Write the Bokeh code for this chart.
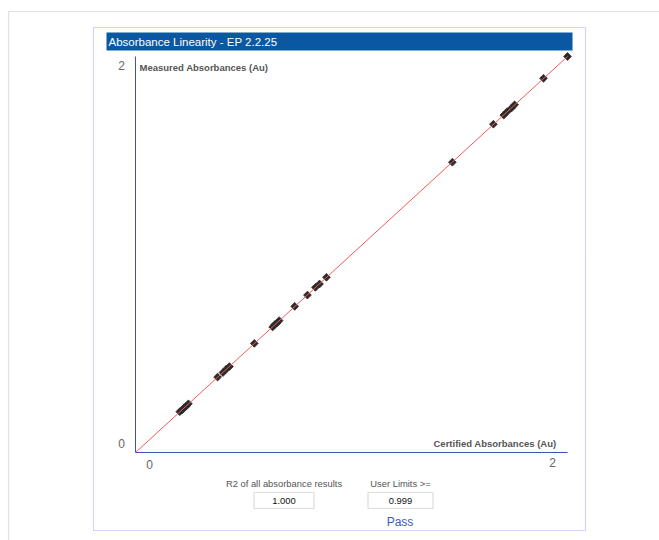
from bokeh.plotting import figure
from bokeh.models import Range1d, Label, BoxAnnotation
from bokeh.embed import file_html
from bokeh.resources import INLINE

# ---- data ----
certified = [0.205, 0.215, 0.225, 0.235, 0.245, 0.380, 0.405, 0.420, 0.435, 0.550,
             0.635, 0.645, 0.655, 0.665, 0.737, 0.796, 0.833, 0.852, 0.884,
             1.467, 1.657, 1.705, 1.720, 1.740, 1.755, 1.889, 2.000]
measured = [0.206, 0.214, 0.226, 0.234, 0.246, 0.381, 0.404, 0.421, 0.434, 0.551,
            0.634, 0.646, 0.654, 0.666, 0.738, 0.795, 0.834, 0.851, 0.885,
            1.466, 1.658, 1.704, 1.721, 1.739, 1.756, 1.890, 2.000]
fit_x = [0.0, 2.0]
fit_y = [0.0, 2.0]
axis_min = 0
axis_max = 2
tick_values = [0, 2]
tick_labels = ["0", "2"]
title_text = "Absorbance Linearity - EP 2.2.25"
x_title = "Certified Absorbances (Au)"
y_title = "Measured Absorbances (Au)"
r2_label = "R2 of all absorbance results"
r2_value = "1.000"
limit_label = "User Limits >="
limit_value = "0.999"
result_text = "Pass"

FONT = "Liberation Sans"
AXIS_COLOR = "#3a55b0"

# layout (pixels): where the 0..2 data square sits on the canvas
W, H = 659, 540
X0_PX, X2_PX = 135, 567      # x = 0 and x = 2
Y0_PX, Y2_PX = 452, 56       # y = 0 and y = 2
sx = (X2_PX - X0_PX) / (axis_max - axis_min)
sy = (Y0_PX - Y2_PX) / (axis_max - axis_min)
x_range = Range1d(axis_min - X0_PX / sx, axis_min + (W - X0_PX) / sx)
y_range = Range1d(axis_min - (H - Y0_PX) / sy, axis_min + Y0_PX / sy)

p = figure(width=W, height=H, output_backend="svg", toolbar_location=None,
           x_range=x_range, y_range=y_range,
           x_axis_location=None, y_axis_location=None,
           min_border=0, min_border_left=0, min_border_right=0,
           min_border_top=0, min_border_bottom=0)
p.outline_line_color = None
p.grid.visible = False


def canvas_box(left, right, top, bottom, **kw):
    p.add_layout(BoxAnnotation(left=left, right=right, top=top, bottom=bottom,
                               left_units="canvas", right_units="canvas",
                               top_units="canvas", bottom_units="canvas", **kw))


def canvas_text(x, y, text, **kw):
    p.add_layout(Label(x=x, y=y, x_units="canvas", y_units="canvas", text=text,
                       text_font=FONT, text_baseline="middle", **kw))


# page decorations
canvas_box(8, 900, 11, 900, fill_color=None, line_color="#999999", line_width=1.2, level="underlay")
canvas_box(93, 585, 27, 530, fill_color=None, line_color="#6a6af5", line_width=1.2, level="underlay")
canvas_box(106, 572, 32, 50, fill_color="#0b58a2", fill_alpha=1, line_color=None, level="underlay")
canvas_text(108, 41, title_text, text_color="white", text_font_size="11.5px", text_align="left")

# axes lines (in data coordinates)
p.segment(x0=[axis_min, axis_min], y0=[axis_min, axis_min],
          x1=[axis_max, axis_min], y1=[axis_min, axis_max],
          line_color=AXIS_COLOR, line_width=1)

# data
p.scatter(certified, measured, marker="square", angle=0.785, size=5.5,
          fill_color="#2b2b2b", line_color="#2b2b2b", line_width=0.8)
p.line(fit_x, fit_y, line_color="#f25a5a", line_width=1)

# tick labels
offsets_y = {0: 9, 2: -9}
for v, t in zip(tick_values, tick_labels):
    p.add_layout(Label(x=axis_min, y=v, x_offset=-14, y_offset=offsets_y[v], text=t,
                       text_color="#666666", text_font=FONT, text_font_size="12px",
                       text_align="center", text_baseline="middle"))
offsets_x = {0: 14, 2: -15}
offsets_xy = {0: -12, 2: -10}
for v, t in zip(tick_values, tick_labels):
    p.add_layout(Label(x=v, y=axis_min, x_offset=offsets_x[v], y_offset=offsets_xy[v], text=t,
                       text_color="#666666", text_font=FONT, text_font_size="12px",
                       text_align="center", text_baseline="middle"))

# axis titles
p.add_layout(Label(x=axis_min, y=axis_max, x_offset=4, y_offset=-11, text=y_title,
                   text_color="#555555", text_font=FONT, text_font_size="9.5px",
                   text_font_style="bold", text_align="left", text_baseline="middle"))
p.add_layout(Label(x=axis_max, y=axis_min, x_offset=-11, y_offset=9, text=x_title,
                   text_color="#555555", text_font=FONT, text_font_size="9.5px",
                   text_font_style="bold", text_align="right", text_baseline="middle"))

# bottom results
for cx, half, lab, val in ((283.5, 30, r2_label, r2_value), (400, 32.5, limit_label, limit_value)):
    canvas_text(cx, 483, lab, text_color="#555555", text_font_size="9.4px", text_align="center")
    canvas_box(cx - half, cx + half, 492, 508, fill_color="white", fill_alpha=1,
               line_color="#8c8c8c", line_width=1.2)
    canvas_text(cx, 500.5, val, text_color="#111111", text_font_size="9.4px", text_align="center")
canvas_text(399.5, 521, result_text, text_color="#3a5bb5", text_font_size="12px", text_align="center")

open("out.html", "w").write(file_html(p, INLINE))
